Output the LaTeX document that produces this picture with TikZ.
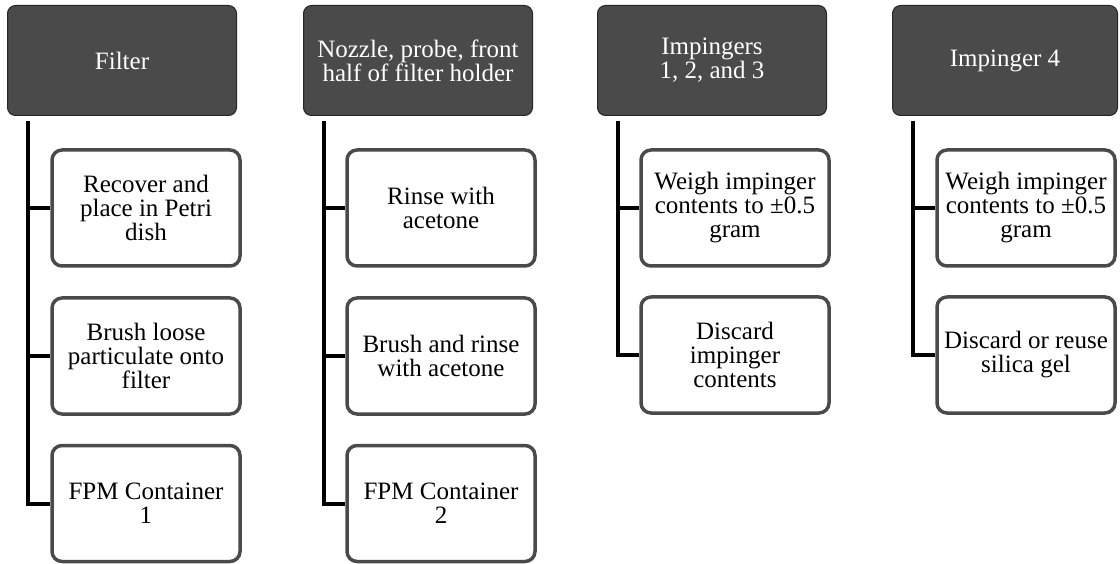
\documentclass[tikz,border=0pt]{standalone}
\usepackage{fontspec}
\setmainfont{Liberation Serif}
\usetikzlibrary{calc}
\definecolor{hdrfill}{HTML}{4A4A4A}
\definecolor{boxline}{HTML}{4A4A4A}
\tikzset{
  hdr/.style={rectangle, rounded corners=8pt, fill=hdrfill, draw=black!85, line width=1pt,
    text=white, minimum width=229pt, minimum height=110pt, inner sep=2pt,
    align=center, font=\fontsize{25}{24}\selectfont},
  childbox/.style={rectangle, rounded corners=10pt, fill=white, draw=boxline, line width=3.5pt,
    minimum width=188pt, minimum height=116pt, inner sep=2pt,
    align=center, font=\fontsize{25}{24}\selectfont},
  trunk/.style={draw=black, line width=4pt, line join=miter}
}
\begin{document}
\begin{tikzpicture}[x=1pt,y=-1pt]
\useasboundingbox (0,0) rectangle (1120,564);
% headers
\node[hdr] (h1) at (122,60.5) {Filter};
\node[hdr] (h2) at (418,60.5) {Nozzle, probe, front\\half of filter holder};
\node[hdr] (h3) at (712,60.5) {Impingers\\1, 2, and 3};
\node[hdr, minimum width=225pt] (h4) at (1005,60.5) {Impinger 4};
% column 1 boxes
\node[childbox] (c11) at (146,208) {Recover and\\place in Petri\\dish};
\node[childbox] (c12) at (146,356) {Brush loose\\particulate onto\\filter};
\node[childbox] (c13) at (146,503.5) {FPM Container\\1};
% column 2 boxes
\node[childbox] (c21) at (441,208) {Rinse with\\acetone};
\node[childbox] (c22) at (441,356) {Brush and rinse\\with acetone};
\node[childbox] (c23) at (441,503.5) {FPM Container\\2};
% column 3 boxes
\node[childbox] (c31) at (735,208) {Weigh impinger\\contents to ±0.5\\gram};
\node[childbox] (c32) at (735,355) {Discard\\impinger\\contents};
% column 4 boxes
\node[childbox, minimum width=178pt] (c41) at (1026,208) {Weigh impinger\\contents to ±0.5\\gram};
\node[childbox, minimum width=178pt] (c42) at (1026,355) {Discard or reuse\\silica gel};
% trunk start points
\coordinate (t1) at ([xshift=21pt,yshift=-5pt]h1.south west);
\coordinate (t2) at ([xshift=21pt,yshift=-5pt]h2.south west);
\coordinate (t3) at ([xshift=21pt,yshift=-5pt]h3.south west);
\coordinate (t4) at ([xshift=21pt,yshift=-5pt]h4.south west);
% connectors
\draw[trunk] (t1) |- (c13.west);
\draw[trunk] (c11.west) -- (c11.west -| t1);
\draw[trunk] (c12.west) -- (c12.west -| t1);
\draw[trunk] (t2) |- (c23.west);
\draw[trunk] (c21.west) -- (c21.west -| t2);
\draw[trunk] (c22.west) -- (c22.west -| t2);
\draw[trunk] (t3) |- (c32.west);
\draw[trunk] (c31.west) -- (c31.west -| t3);
\draw[trunk] (t4) |- (c42.west);
\draw[trunk] (c41.west) -- (c41.west -| t4);
\end{tikzpicture}
\end{document}
